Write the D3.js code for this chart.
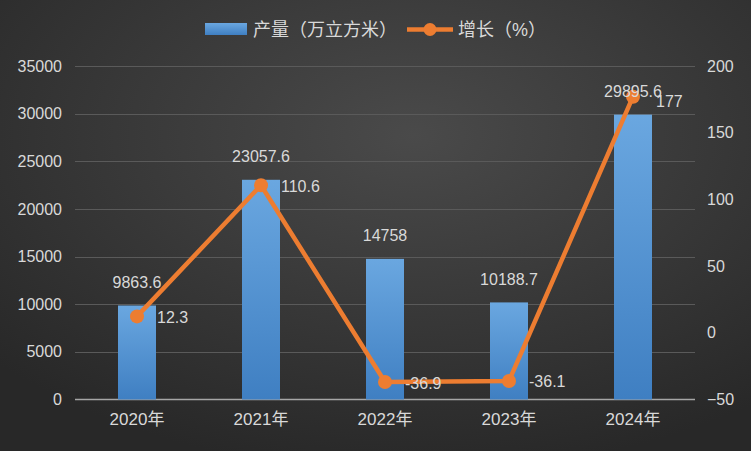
<!DOCTYPE html>
<html><head><meta charset="utf-8">
<script src="https://cdn.jsdelivr.net/npm/d3@7"></script>
<style>html,body{margin:0;padding:0;background:#333;}svg{display:block;}</style>
</head><body>
<script>
const categories = ["2020年","2021年","2022年","2023年","2024年"];
const output = [9863.6, 23057.6, 14758, 10188.7, 29895.6];
const growth = [12.3, 110.6, -36.9, -36.1, 177];
const leftTicks = [0,5000,10000,15000,20000,25000,30000,35000];
const rightTicks = [-50,0,50,100,150,200];
const seriesNames = ["产量（万立方米）","增长（%）"];

const W = 751, H = 451;
const font = "'Liberation Sans','Noto Sans CJK SC',sans-serif";
const svg = d3.select("body").append("svg").attr("width", W).attr("height", H);
const defs = svg.append("defs");
const bg = defs.append("radialGradient").attr("id","bg").attr("cx","55%").attr("cy","30%").attr("r","75%");
bg.append("stop").attr("offset","0%").attr("stop-color","#4a4a4a");
bg.append("stop").attr("offset","100%").attr("stop-color","#282828");
const bar = defs.append("linearGradient").attr("id","bar").attr("x1",0).attr("y1",0).attr("x2",0).attr("y2",1);
bar.append("stop").attr("offset","0%").attr("stop-color","#6aa7e0");
bar.append("stop").attr("offset","100%").attr("stop-color","#3f7fc2");
svg.append("rect").attr("width",W).attr("height",H).attr("fill","url(#bg)");

const x = d3.scaleBand().domain(categories).range([75,695]);
const yL = d3.scaleLinear().domain([0,35000]).range([399.5,66]);
const yR = d3.scaleLinear().domain([-50,200]).range([399.5,66]);

// gridlines
svg.append("g").selectAll("line").data(leftTicks.slice(1)).join("line")
  .attr("x1",75).attr("x2",695).attr("y1",d=>Math.round(yL(d))+0.5).attr("y2",d=>Math.round(yL(d))+0.5)
  .attr("stroke","#5a5a5a").attr("stroke-width",1);

// axes
const axL = svg.append("g").attr("transform","translate(75,0)")
  .call(d3.axisLeft(yL).tickValues(leftTicks).tickFormat(d3.format("d")).tickSize(0).tickPadding(13));
const axR = svg.append("g").attr("transform","translate(695,0)")
  .call(d3.axisRight(yR).tickValues(rightTicks).tickFormat(d3.format("d")).tickSize(0).tickPadding(12));
const axB = svg.append("g").attr("transform","translate(0,399.5)")
  .call(d3.axisBottom(x).tickSize(0).tickPadding(13));
[axL,axR,axB].forEach(a=>{a.select(".domain").remove();
  a.selectAll("text").attr("fill","#d9d9d9").style("font-size","16px").style("font-family",font);});
axB.selectAll("text").style("font-size","17px");
svg.append("line").attr("x1",75).attr("x2",695).attr("y1",399.5).attr("y2",399.5).attr("stroke","#a6a6a6").attr("stroke-width",1.5);

// bars
const bw = 38;
svg.append("g").selectAll("rect").data(output).join("rect")
  .attr("x",(d,i)=>x(categories[i])+x.bandwidth()/2-bw/2)
  .attr("y",d=>yL(d)).attr("width",bw).attr("height",d=>yL(0)-yL(d))
  .attr("fill","url(#bar)");

// line
const line = d3.line().x((d,i)=>x(categories[i])+x.bandwidth()/2).y(d=>yR(d));
svg.append("path").datum(growth).attr("d",line).attr("fill","none")
  .attr("stroke","#ed7d31").attr("stroke-width",4.5).attr("stroke-linejoin","round");
svg.append("g").selectAll("circle").data(growth).join("circle")
  .attr("cx",(d,i)=>x(categories[i])+x.bandwidth()/2).attr("cy",d=>yR(d)).attr("r",7)
  .attr("fill","#ed7d31");

// bar labels
svg.append("g").selectAll("text").data(output).join("text")
  .attr("x",(d,i)=>x(categories[i])+x.bandwidth()/2).attr("y",d=>yL(d)-23)
  .attr("text-anchor","middle").attr("dominant-baseline","central")
  .attr("fill","#d9d9d9").style("font-size","16px").style("font-family",font)
  .text(d=>d);
// line labels
svg.append("g").selectAll("text").data(growth).join("text")
  .attr("x",(d,i)=>x(categories[i])+x.bandwidth()/2+(i==4?23:20)).attr("y",(d,i)=>yR(d)+(i==4?5:1))
  .attr("text-anchor","start").attr("dominant-baseline","central")
  .attr("fill","#d9d9d9").style("font-size","16px").style("font-family",font)
  .text(d=>d);

// legend
const lg = svg.append("g");
lg.append("rect").attr("x",205).attr("y",23).attr("width",42).attr("height",12).attr("fill","url(#bar)");
lg.append("text").attr("x",253).attr("y",29.5).attr("dominant-baseline","central")
  .attr("fill","#d9d9d9").style("font-size","18px").style("font-family",font).text(seriesNames[0]);
lg.append("line").attr("x1",407).attr("x2",453).attr("y1",29.5).attr("y2",29.5).attr("stroke","#ed7d31").attr("stroke-width",4.5);
lg.append("circle").attr("cx",430).attr("cy",29.5).attr("r",6.5).attr("fill","#ed7d31");
lg.append("text").attr("x",458).attr("y",29.5).attr("dominant-baseline","central")
  .attr("fill","#d9d9d9").style("font-size","18px").style("font-family",font).text(seriesNames[1]);
</script>
</body></html>
